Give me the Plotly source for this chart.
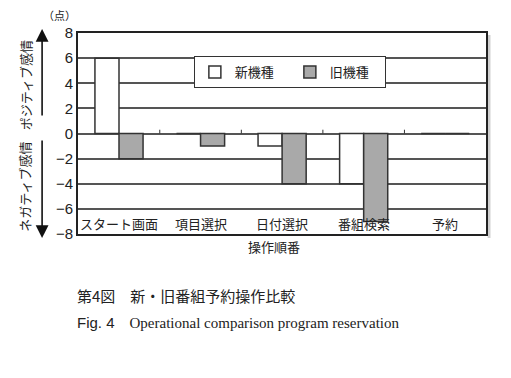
import plotly.graph_objects as go

categories = ["スタート画面", "項目選択", "日付選択", "番組検索", "予約"]
new_model = [6, 0, -1, -4, 0]
old_model = [-2, -1, -4, -7, 0]
series_names = ["新機種", "旧機種"]
y_ticks = [-8, -6, -4, -2, 0, 2, 4, 6, 8]
y_min, y_max = -8, 8

JP = "Noto Sans CJK JP"
fig = go.Figure()
fig.add_trace(go.Bar(x=categories, y=new_model, name=series_names[0],
                     marker=dict(color="white", line=dict(color="#333", width=1.5))))
fig.add_trace(go.Bar(x=categories, y=old_model, name=series_names[1],
                     marker=dict(color="#a9a9a9", line=dict(color="#333", width=1.5))))

shapes = []
for i in range(len(categories) - 1):
    shapes.append(dict(type="line", xref="x", yref="y", x0=i + 0.5, x1=i + 0.5,
                       y0=0, y1=0.3, line=dict(color="#333", width=1)))
shapes.append(dict(type="rect", xref="paper", yref="paper", x0=1.004, x1=1.011,
                   y0=-0.02, y1=0.99, fillcolor="#d0d0d0", line=dict(width=0), layer="below"))

fig.update_layout(
    width=511, height=378,
    margin=dict(l=78, r=25, t=33, b=144),
    paper_bgcolor="white", plot_bgcolor="white",
    barmode="group", bargap=0.41, bargroupgap=0,
    font=dict(family=JP, color="#222", size=13),
    showlegend=True,
    legend=dict(orientation="h", x=0.284, y=0.885, xanchor="left", yanchor="top",
                bordercolor="#333", borderwidth=1, bgcolor="white",
                font=dict(size=13, family=JP), itemwidth=30,
                entrywidth=50, tracegroupgap=0),
    xaxis=dict(showgrid=False, ticks="", showticklabels=False,
               showline=True, linecolor="#222", linewidth=2, mirror=True),
    yaxis=dict(range=[y_min, y_max], tickvals=y_ticks, ticks="",
               tickfont=dict(size=15, family="Liberation Sans"),
               showgrid=True, gridcolor="#555", gridwidth=1.5,
               zeroline=True, zerolinecolor="#555", zerolinewidth=1.5,
               showline=True, linecolor="#222", linewidth=2, mirror=True),
    shapes=shapes,
)

ann = []
for c in categories:
    ann.append(dict(text=c, xref="x", yref="y", x=c, y=y_min, yanchor="bottom",
                    yshift=-1, showarrow=False, font=dict(size=13, family=JP)))
ann += [
    dict(text="操作順番", xref="paper", yref="paper", x=0.48, y=-0.06,
         xanchor="center", yanchor="middle", showarrow=False,
         font=dict(size=13, family=JP)),
    dict(text="（点）", xref="paper", yref="paper", x=-0.045, y=1.088,
         xanchor="center", yanchor="middle",
         showarrow=False, font=dict(size=11, family=JP)),
    dict(text="", xref="paper", yref="paper", x=-0.088, y=1.02, ax=0, ay=88,
         showarrow=True, arrowhead=2, arrowsize=1.6, arrowwidth=1.6, arrowcolor="#111"),
    dict(text="", xref="paper", yref="paper", x=-0.088, y=-0.02, ax=0, ay=-99,
         showarrow=True, arrowhead=2, arrowsize=1.6, arrowwidth=1.6, arrowcolor="#111"),
    dict(text="ポジティブ感情", xref="paper", yref="paper", x=-0.13, y=0.74,
         xanchor="center", yanchor="middle",
         textangle=-90, showarrow=False, font=dict(size=13, family=JP)),
    dict(text="ネガティブ感情", xref="paper", yref="paper", x=-0.13, y=0.235,
         xanchor="center", yanchor="middle",
         textangle=-90, showarrow=False, font=dict(size=13, family=JP)),
    dict(text="第4図　新・旧番組予約操作比較", xref="paper", yref="paper",
         x=-0.007, xanchor="left", y=-0.305, yanchor="middle",
         showarrow=False, font=dict(size=15, family=JP, color="#222")),
    dict(text="Fig. 4　<span style='font-family:Liberation Serif'>Operational comparison program reservation</span>",
         xref="paper", yref="paper", x=-0.007, xanchor="left", y=-0.44, yanchor="middle",
         showarrow=False, font=dict(size=15, family="Liberation Sans", color="#222")),
]
fig.update_layout(annotations=ann)
fig.write_html("out.html")
